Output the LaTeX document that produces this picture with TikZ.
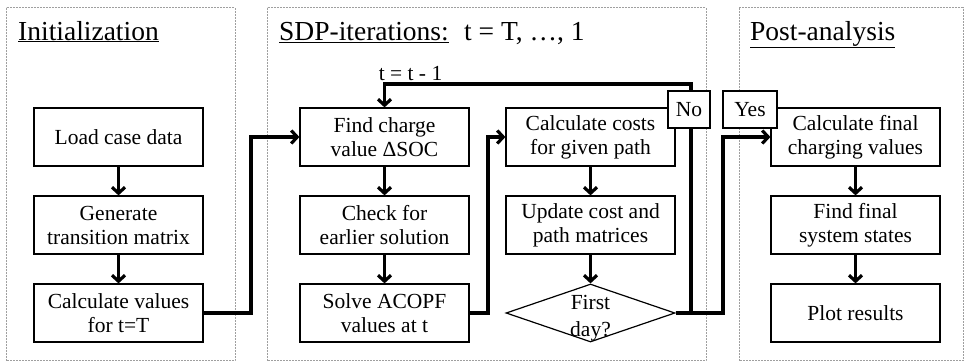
\documentclass[tikz,border=0pt]{standalone}
\usepackage{fontspec}
\setmainfont{Liberation Serif}
\usetikzlibrary{arrows.meta,shapes.geometric}
\tikzset{
  panel/.style={draw=gray!75, dash pattern=on 2pt off 1pt, line width=0.9pt},
  proc/.style={draw, line width=1.2pt, minimum width=169pt, minimum height=58pt, inner sep=0pt, align=center, fill=white, font=\fontsize{21.5}{24}\selectfont},
  decision/.style={draw, diamond, line width=1.2pt, minimum width=169pt, minimum height=58pt, inner sep=0pt},
  flow/.style={line width=3.2pt, -{Straight Barb[length=6pt,width=13pt]}},
  titletext/.style={anchor=base west, inner sep=0pt, font=\fontsize{27.5}{30}\selectfont},
  plain/.style={inner sep=0pt, font=\fontsize{21.5}{24}\selectfont},
  tag/.style={draw, line width=1.2pt, fill=white, minimum height=37pt, inner sep=0pt, font=\fontsize{21.5}{24}\selectfont}
}
\begin{document}
\begin{tikzpicture}[x=1pt,y=-1pt]
\useasboundingbox (0,0) rectangle (964,362);
% panels
\draw[panel] (6,7.5) rectangle (235,360.5);
\draw[panel] (267,7.5) rectangle (706,360.5);
\draw[panel] (739,7.5) rectangle (963,360.5);
% titles
\node[titletext] (t1) at (18,40) {\underline{Initialization}};
\node[titletext] (t2) at (279,40) {\underline{SDP-iterations:}};
\node[titletext] (t2b) at (464,40) {t = T, …, 1};
\node[titletext] (t3) at (750,40) {\underline{Post-analysis}};
% column 1
\node[proc] (L1) at (118.5,137) {Load case data};
\node[proc] (G1) at (118.5,225) {Generate\\transition matrix};
\node[proc] (C1) at (118.5,313) {Calculate values\\for t=T};
% column 2
\node[proc] (F2) at (384.5,137) {Find charge\\value ΔSOC};
\node[proc] (K2) at (384.5,225) {Check for\\earlier solution};
\node[proc] (S2) at (384.5,313) {Solve ACOPF\\values at t};
% column 3
\node[proc] (CC) at (590.5,137) {Calculate costs\\for given path};
\node[proc] (U3) at (590.5,225) {Update cost and\\path matrices};
\node[decision] (D3) at (590.5,313) {};
\node[plain, align=center, font=\fontsize{21.5}{27}\selectfont] (D3t) at (590.5,318) {First\\day?};
% column 4
\node[proc] (CF) at (855.5,137) {Calculate final\\charging values};
\node[proc] (FS) at (855.5,225) {Find final\\system states};
\node[proc] (PR) at (855.5,313) {Plot results};
% vertical flows
\draw[flow] (L1) -- (G1);
\draw[flow] (G1) -- (C1);
\draw[flow] (F2) -- (K2);
\draw[flow] (K2) -- (S2);
\draw[flow] (CC) -- (U3);
\draw[flow] (U3) -- (D3);
\draw[flow] (CF) -- (FS);
\draw[flow] (FS) -- (PR);
% cross connectors
\coordinate (j1) at (251,313);
\coordinate (j2) at (488,313);
\coordinate (loopR) at (691,84);
\coordinate (yesX) at (723,313);
\draw[flow] (C1.east) -- (j1) |- (F2.west);
\draw[flow] (S2.east) -- (j2) |- (CC.west);
\draw[flow] (D3.east) -| (loopR) -| (F2.north);
\draw[flow] (D3.east) -- (yesX) |- (CF.west);
% labels
\node[plain, anchor=base] (lbl) at (410.5,80) {t = t - 1};
\node[tag, minimum width=42pt] (no) at (689,109.5) {No};
\node[tag, minimum width=54pt] (yes) at (750,109.5) {Yes};
\end{tikzpicture}
\end{document}
